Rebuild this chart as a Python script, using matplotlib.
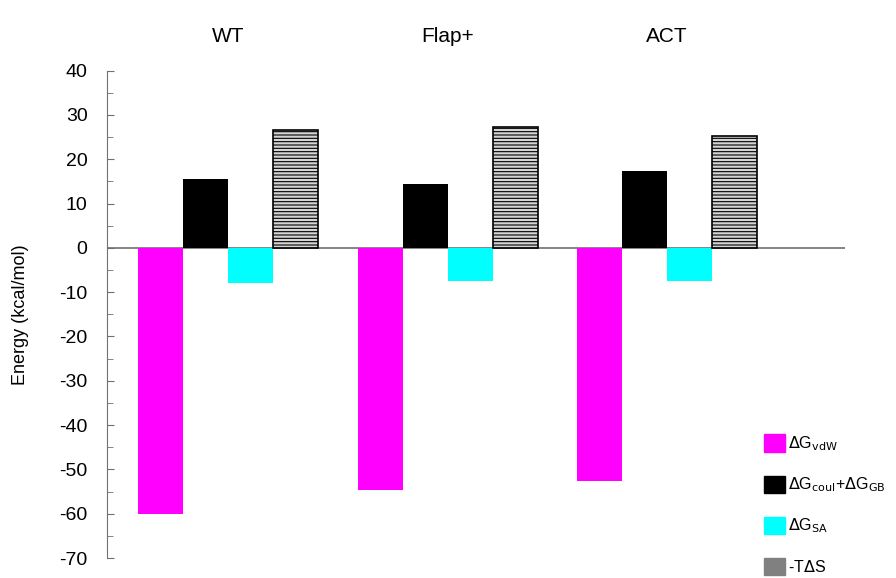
import matplotlib.pyplot as plt
from matplotlib.patches import Patch
from matplotlib.ticker import MultipleLocator
import numpy as np

plt.rcParams['font.family'] = ['Liberation Sans', 'DejaVu Sans']
plt.rcParams['axes.unicode_minus'] = False

# Energy components (kcal/mol) for each system
systems = ['WT', 'Flap+', 'ACT']
dg_vdw = [-60.0, -54.7, -52.7]
dg_coul_gb = [15.6, 14.5, 17.4]
dg_sa = [-7.9, -7.5, -7.5]
minus_tds = [26.7, 27.3, 25.3]

labels = [r'$\Delta$G$_{\mathrm{vdW}}$',
          r'$\Delta$G$_{\mathrm{coul}}$+$\Delta$G$_{\mathrm{GB}}$',
          r'$\Delta$G$_{\mathrm{SA}}$',
          r'-T$\Delta$S']

fig = plt.figure(figsize=(8.96, 5.78), dpi=100)
ax = fig.add_axes([0.1194, 0.0346, 0.8236, 0.8431])

x = np.arange(len(systems))
w = 0.205
ax.bar(x - 1.5 * w, dg_vdw, w, color='#ff00ff', linewidth=0)
ax.bar(x - 0.5 * w, dg_coul_gb, w, color='black', linewidth=0)
ax.bar(x + 0.5 * w, dg_sa, w, color='#00ffff', linewidth=0)
plt.rcParams['hatch.linewidth'] = 0.8
ax.bar(x + 1.5 * w, minus_tds, w, facecolor='#d4d4d4', edgecolor='black',
       hatch='-----', linewidth=1.2)

ax.axhline(0, color='#707070', lw=1.2, zorder=0)
ax.set_xlim(-0.551, 2.81)
ax.set_ylim(-70, 40)
ax.yaxis.set_major_locator(MultipleLocator(10))
ax.yaxis.set_minor_locator(MultipleLocator(5))
ax.tick_params(axis='y', which='major', direction='in', length=5,
               color='#707070', labelsize=14, pad=14)
ax.tick_params(axis='y', which='minor', direction='in', length=4,
               color='#707070')
ax.set_xticks([])
for s in ['top', 'right', 'bottom']:
    ax.spines[s].set_visible(False)
ax.spines['left'].set_color('#707070')
ax.set_ylabel('Energy (kcal/mol)', fontsize=13, labelpad=22)

for xi, name in zip(x, systems):
    ax.text(xi, 1.07, name, transform=ax.get_xaxis_transform(),
            ha='center', va='center', fontsize=15)

handles = [Patch(color='#ff00ff'), Patch(color='black'),
           Patch(color='#00ffff'), Patch(color='#808080')]
fig.legend(handles, labels, loc='lower right', bbox_to_anchor=(1.005, -0.02),
           frameon=False, fontsize=11.5, handlelength=1.3, handleheight=1.3,
           handletextpad=0.2, labelspacing=1.4)

fig.savefig('out.png', dpi=100)
